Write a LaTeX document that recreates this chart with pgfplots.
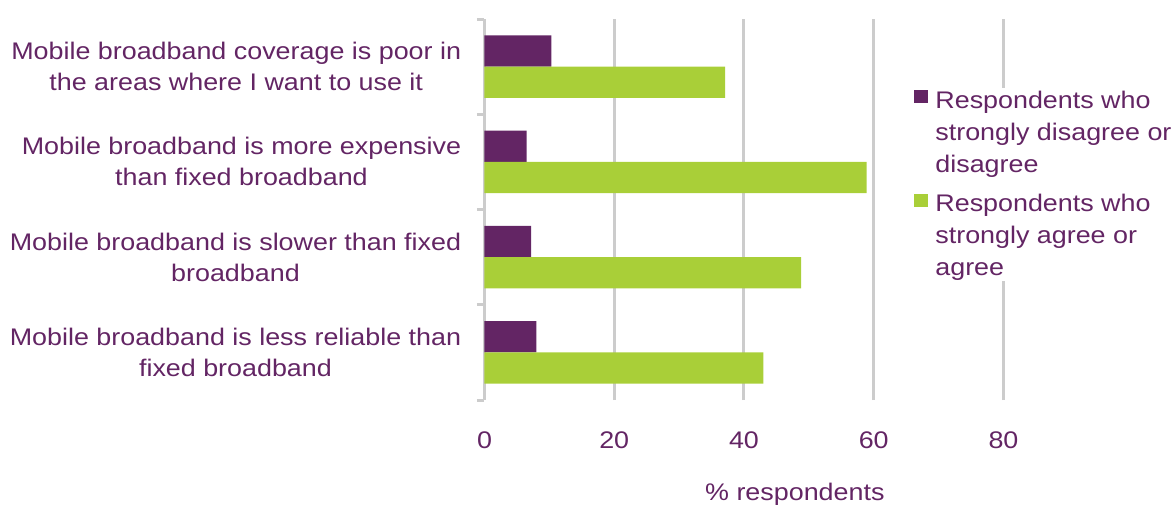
\documentclass[border=0pt]{standalone}
\usepackage{fontspec}
\setmainfont{Liberation Sans}[FakeStretch=1.12]
\usepackage{pgfplots}
\pgfplotsset{compat=1.18}
\definecolor{mypurple}{RGB}{99,37,100}
\definecolor{mygreen}{RGB}{169,207,56}
\definecolor{mygray}{RGB}{204,204,204}
\begin{document}
\begin{tikzpicture}[font=\fontsize{12}{15.5}\selectfont, text=mypurple]
\path[use as bounding box] (-242.25pt,-52pt) rectangle (343.25pt,200pt);
\begin{axis}[
  scale only axis,
  width=259.5pt, height=190.5pt,
  xbar, bar width=0.329,
  xmin=0, xmax=80, ymin=-0.5, ymax=3.5,
  /pgf/number format/assume math mode=true,
  axis x line*=bottom, axis y line*=left,
  x axis line style={draw=none},
  y axis line style={draw=mygray, line width=1.75pt},
  xtick={0,20,40,60,80},
  ytick={0,1,2,3},
  minor ytick={-0.5,0.5,1.5,2.5,3.5},
  yticklabels={{Mobile broadband is less reliable than\\fixed broadband},
               {Mobile broadband is slower than fixed\\broadband},
               {Mobile broadband is more expensive\\than fixed broadband},
               {Mobile broadband coverage is poor in\\the areas where I want to use it}},
  yticklabel style={align=center, inner sep=0pt, xshift=-11.5pt, text=mypurple},
  xticklabel style={inner sep=0pt, yshift=-15.5pt, text=mypurple},
  major tick length=0pt,
  minor tick length=3.75pt,
  tick align=outside,
  minor tick style={draw=mygray, line width=1.5pt},
  xmajorgrids,
  major grid style={draw=mygray, line width=1.5pt},
  xlabel={\% respondents},
  xlabel style={at={(axis description cs:0.598,0)}, anchor=north, yshift=-41.3pt, inner sep=0pt, text=mypurple},
  legend style={at={(rel axis cs:0.8237,0.8189)}, anchor=north west, draw=none, fill=white,
    inner sep=1pt, row sep=9pt, column sep=3.5pt, font=\fontsize{12}{16}\selectfont,
    nodes={inner sep=0pt, text=mypurple, align=left}},
  legend cell align=left,
  legend image code/.code={\fill[#1] (0pt,15pt) rectangle (7pt,21.5pt);},
]
\addplot[fill=mypurple, draw=none, bar shift=0.1645] coordinates {(8.0,0) (7.2,1) (6.5,2) (10.3,3)};
\addplot[fill=mygreen, draw=none, bar shift=-0.1645] coordinates {(43.0,0) (48.8,1) (58.9,2) (37.1,3)};
\legend{{Respondents who\\strongly disagree or\\disagree},{Respondents who\\strongly agree or\\agree}}
\end{axis}
\end{tikzpicture}
\end{document}
